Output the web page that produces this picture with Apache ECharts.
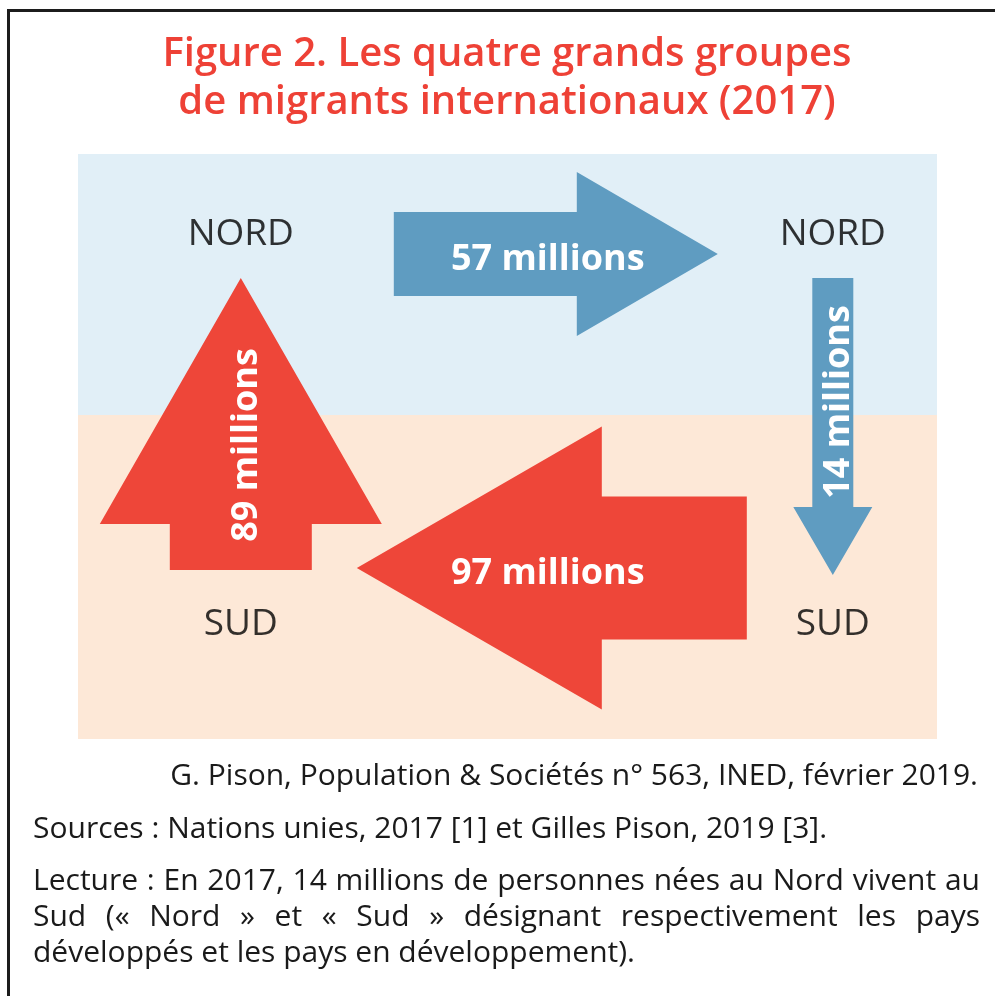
<!DOCTYPE html>
<html lang="fr">
<head>
<meta charset="UTF-8">
<title>Figure 2</title>
<style>
html,body{margin:0;padding:0;width:100%;height:100%;background:#fff;}
#chart{width:995px;height:996px;}
</style>
</head>
<body>
<div id="chart"></div>
<script src="https://cdn.jsdelivr.net/npm/echarts@6/dist/echarts.min.js"></script>
<script>
// groupes de pays (noeuds) : position sur la grille abstraite 0/1
var nodeNames = ['NORD', 'NORD', 'SUD', 'SUD'];
var nodeX = [0, 1, 0, 1];
var nodeY = [1, 1, 0, 0];

// flux de migrants (millions, 2017)
var flowFrom = [0, 1, 3, 2];
var flowTo = [1, 3, 2, 0];
var flowValues = [57, 14, 97, 89];
var flowUnit = 'millions';
var flowColors = ['#5f9cc1', '#5f9cc1', '#ee4639', '#ee4639'];

var titleLines = ['Figure 2. Les quatre grands groupes', 'de migrants internationaux (2017)'];
var creditLine = 'G. Pison, Population & Sociétés n° 563, INED, février 2019.';
var sourceLine = 'Sources : Nations unies, 2017 [1] et Gilles Pison, 2019 [3].';
var readingLines = [
	'Lecture : En 2017, 14 millions de personnes nées au Nord vivent au',
	'Sud (« Nord » et « Sud » désignant respectivement les pays',
	'développés et les pays en développement).'
];

// forme des fleches (pixels, le long du trajet noeud -> noeud)
var arrowShapes = [
	{start: 153, tip: 477, shaft: 42, head: 82, headLen: 141, offset: 22, labelAt: 307, vertical: false},
	{start: 46, tip: 343, shaft: 20.5, head: 39.5, headLen: 68, offset: 0, labelAt: 170, vertical: true},
	{start: 86, tip: 476, shaft: 71.5, head: 141.5, headLen: 245, offset: 54, labelAt: 285, vertical: false},
	{start: 52, tip: 344, shaft: 71, head: 141, headLen: 246, offset: 0, labelAt: 177, vertical: true}
];

var chart = echarts.init(document.getElementById('chart'));

var measureCtx = document.createElement('canvas').getContext('2d');
function textWidth(str, font) {
	measureCtx.font = font;
	return measureCtx.measureText(str).width;
}

var footFont = '30px "Open Sans"';
function textEl(str, x, y, align) {
	return {
		type: 'text', x: x, y: y,
		style: {text: str, font: footFont, fill: '#1a1a1a', align: align, textAlign: align,
			verticalAlign: 'middle', textVerticalAlign: 'middle'}
	};
}
function justified(str, x0, x1, y) {
	var words = str.split(' ');
	var total = 0;
	words.forEach(function (w) { total += textWidth(w, footFont); });
	var gap = (x1 - x0 - total) / (words.length - 1);
	var x = x0, out = [];
	words.forEach(function (w) {
		out.push(textEl(w, x, y, 'left'));
		x += textWidth(w, footFont) + gap;
	});
	return out;
}

var flowData = flowValues.map(function (v, i) {
	var a = flowFrom[i], b = flowTo[i];
	return [nodeX[a], nodeY[a], nodeX[b], nodeY[b], v, i];
});
var nodeData = nodeNames.map(function (n, i) {
	return {name: n, value: [nodeX[i], nodeY[i]]};
});

var zoneSplit = 0.531;

function renderArrow(params, api) {
	var i = api.value(5);
	var s = arrowShapes[i];
	var A = api.coord([api.value(0), api.value(1)]);
	var B = api.coord([api.value(2), api.value(3)]);
	var len = Math.sqrt((B[0] - A[0]) * (B[0] - A[0]) + (B[1] - A[1]) * (B[1] - A[1]));
	var d = [(B[0] - A[0]) / len, (B[1] - A[1]) / len];
	var n = [-d[1], d[0]];
	function p(along, w) {
		return [A[0] + d[0] * along + n[0] * (s.offset + w), A[1] + d[1] * along + n[1] * (s.offset + w)];
	}
	var hb = s.tip - s.headLen;
	var pts = [p(s.start, -s.shaft), p(hb, -s.shaft), p(hb, -s.head), p(s.tip, 0),
		p(hb, s.head), p(hb, s.shaft), p(s.start, s.shaft)];
	var lp = p(s.labelAt, 0);
	return {
		type: 'group',
		children: [{
			type: 'polygon',
			shape: {points: pts},
			style: {fill: flowColors[i]}
		}, {
			type: 'text',
			x: lp[0], y: lp[1],
			rotation: s.vertical ? Math.PI / 2 : 0,
			style: {
				text: api.value(4) + ' ' + flowUnit,
				x: 0, y: 6,
				font: 'bold 36px "Open Sans"', fill: '#fff',
				align: 'center', textAlign: 'center',
				verticalAlign: 'middle', textVerticalAlign: 'middle'
			}
		}]
	};
}

function renderZone(params, api) {
	var cs = params.coordSys;
	var yTop = api.coord([0, api.value(1)])[1];
	var yBot = api.coord([0, api.value(0)])[1];
	return {
		type: 'rect',
		shape: {x: cs.x, y: yTop, width: cs.width, height: yBot - yTop},
		style: {fill: api.value(2) === 0 ? '#e1eff7' : '#fde8d7'}
	};
}

var titleFont = '600 40px "Open Sans"';
var graphics = [
	{type: 'rect', shape: {x: 8.5, y: 10.5, width: 1000, height: 1000}, style: {fill: 'none', stroke: '#1c1c1c', lineWidth: 3}},
	{type: 'text', x: 507, y: 55, style: {text: titleLines[0], font: titleFont, fill: '#ee4136',
		align: 'center', textAlign: 'center', verticalAlign: 'middle', textVerticalAlign: 'middle'}},
	{type: 'text', x: 507, y: 103, style: {text: titleLines[1], font: titleFont, fill: '#ee4136',
		align: 'center', textAlign: 'center', verticalAlign: 'middle', textVerticalAlign: 'middle'}},
	textEl(creditLine, 978, 776, 'right'),
	textEl(sourceLine, 33, 829, 'left')
];
graphics = graphics.concat(justified(readingLines[0], 33, 980, 881));
graphics = graphics.concat(justified(readingLines[1], 33, 980, 917));
graphics.push(textEl(readingLines[2], 33, 953, 'left'));

var option = {
	backgroundColor: '#fff',
	animation: false,
	grid: {left: 78, top: 154, width: 859, height: 585},
	xAxis: {type: 'value', min: -0.275, max: 1.176, show: false},
	yAxis: {type: 'value', min: -0.3, max: 1.2, show: false},
	graphic: graphics,
	series: [{
		type: 'custom',
		z: 1,
		silent: true,
		renderItem: renderZone,
		data: [[zoneSplit, 1.2, 0], [-0.3, zoneSplit, 1]]
	}, {
		type: 'custom',
		z: 3,
		silent: true,
		renderItem: renderArrow,
		data: flowData
	}, {
		type: 'scatter',
		z: 4,
		silent: true,
		symbolSize: 1,
		itemStyle: {color: 'rgba(0,0,0,0)'},
		label: {
			show: true, position: 'inside', formatter: '{b}',
			fontFamily: 'Open Sans', fontSize: 37, color: '#000',
			offset: [0, 2]
		},
		data: nodeData
	}]
};
chart.setOption(option);
</script>
</body>
</html>
